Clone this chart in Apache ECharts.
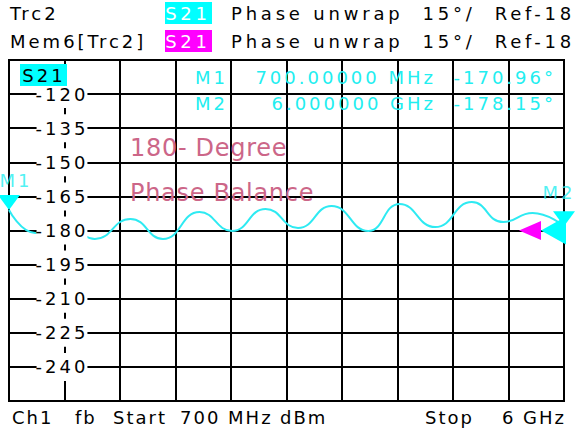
<!DOCTYPE html>
<html><head><meta charset="utf-8">
<script src="https://cdn.jsdelivr.net/npm/echarts@6/dist/echarts.min.js"></script>
<style>
html,body{margin:0;padding:0;background:#fff;}
#c{width:575px;height:433px;letter-spacing:3px;}
#c text[fill="#cc6688"], #c text[fill="#CC6688"]{letter-spacing:0.7px;}
#c text[fill="#020202"], #c text[fill="#fffffe"], #c text[fill="#FFFFFE"]{letter-spacing:3.8px;}
#c text[fill="#010101"]{letter-spacing:2px;}
</style></head><body><div id="c"></div>
<script>
// ---- data ----
const freqGHz  = [0.70, 0.95, 1.21, 1.52, 1.86, 2.17, 2.52, 2.83, 3.15, 3.46, 3.78, 4.13, 4.43, 4.77, 5.12, 5.42, 5.70, 6.00];
const phaseDeg = [-170.96, -181.1, -175.4, -183.7, -174.9, -183.7, -171.9, -180.2, -170.5, -178.9, -169.2, -180.2, -168.3, -178.5, -167.5, -176.3, -172.3, -178.15];
const markerNames = ['M1', 'M2'];
const markerFreq  = [0.7, 6.0];
const markerPhase = [-170.96, -178.15];
const refLevel = -180;
const yMin = -255, yMax = -105, yStep = 15;
const yTickLabels = [-120, -135, -150, -165, -180, -195, -210, -225, -240];
const fStart = 0.7, fStop = 6.0;

const FONT = '"DejaVu Sans", sans-serif';
const CYAN = '#00ffff';
const TRACE = '#2eeaf2';
const MAG = '#ff00ff';
const PINK = '#cc6688';
const HEAD = '#020202';
const FOOT = '#010101';
const MTXT = '#22eef0';

const traceData = freqGHz.map((f, i) => [f, phaseDeg[i]]);
const markerData = markerNames.map((n, i) => ({ name: n, value: [markerFreq[i], markerPhase[i]] }));
const markerLabelOffsets = [[7, -29], [-5, -34]];
const markerLabelData = markerData.map((d, i) => ({ name: d.name, value: d.value, label: { offset: markerLabelOffsets[i] } }));

function txt(x, y, s, opts) {
  opts = opts || {};
  return {
    type: 'text', x: x, y: y, z: 100,
    style: {
      text: s, fill: opts.fill || '#000',
      font: (opts.size || 18) + 'px ' + FONT,
      align: opts.align || 'left', textAlign: opts.align || 'left',
      verticalAlign: 'middle', textVerticalAlign: 'middle'
    }
  };
}
function box(x, y, w, h, color) {
  return { type: 'rect', z: 99, shape: { x: x, y: y, width: w, height: h }, style: { fill: color } };
}

const chart = echarts.init(document.getElementById('c'), null, { renderer: 'svg' });
chart.setOption({
  animation: false,
  backgroundColor: '#fff',
  grid: { left: 9, right: 11, top: 60, bottom: 32, show: true, borderColor: '#000', borderWidth: 2, outerBoundsMode: 'none', containLabel: false },
  xAxis: [
    { type: 'value', min: fStart, max: fStop, show: false },
    { type: 'value', min: 0, max: 10, interval: 1, show: true,
      axisLine: { show: false }, axisTick: { show: false }, axisLabel: { show: false },
      splitLine: { show: true, lineStyle: { color: '#000', width: 2 } } }
  ],
  yAxis: [
    { type: 'value', min: yMin, max: yMax, interval: yStep, position: 'left', offset: -56, z: 10,
      axisLine: { show: false }, axisTick: { show: false }, splitLine: { show: false },
      axisLabel: { show: true, margin: 3, align: 'center', color: '#000', fontFamily: FONT, fontSize: 18,
        backgroundColor: '#fff', padding: [5, 5], showMinLabel: false, showMaxLabel: false,
        formatter: v => (yTickLabels.indexOf(v) >= 0 ? String(v) : '') } },
    { type: 'value', min: yMin, max: yMax, interval: yStep, show: true,
      axisLine: { show: false }, axisTick: { show: false }, axisLabel: { show: false },
      splitLine: { show: true, lineStyle: { color: '#000', width: 2 } } }
  ],
  series: [
    { type: 'line', xAxisIndex: 0, yAxisIndex: 0, data: traceData, smooth: 0.5, showSymbol: false, symbol: 'none',
      lineStyle: { color: TRACE, width: 2 }, z: 5 },
    // reference level arrows (memory = magenta, trace = cyan)
    { type: 'scatter', xAxisIndex: 0, yAxisIndex: 0, clip: false, z: 6, data: [[fStop, refLevel]],
      symbol: 'triangle', symbolRotate: 90, symbolSize: [19, 22], symbolOffset: [-34, 0],
      itemStyle: { color: MAG, opacity: 1 } },
    { type: 'scatter', xAxisIndex: 0, yAxisIndex: 0, clip: false, z: 7, data: [[fStop, refLevel]],
      symbol: 'triangle', symbolRotate: 90, symbolSize: [28, 25], symbolOffset: [-10.5, 0],
      itemStyle: { color: CYAN, opacity: 1 } },
    // markers
    { type: 'scatter', xAxisIndex: 0, yAxisIndex: 0, clip: false, z: 8, data: markerData,
      symbol: 'triangle', symbolRotate: 180, symbolSize: [22, 15], symbolOffset: [0, -7.5],
      itemStyle: { color: CYAN, opacity: 1 } },
    { type: 'scatter', xAxisIndex: 0, yAxisIndex: 0, clip: false, z: 9, data: markerLabelData,
      symbol: 'circle', symbolSize: 1, itemStyle: { color: 'transparent' },
      label: { show: true, position: 'inside', formatter: p => p.name, color: MTXT, fontFamily: FONT, fontSize: 18 } }
  ],
  graphic: [
    txt(10, 13, 'Trc2'),
    box(165, 2, 47, 22, CYAN),
    txt(188, 13, 'S21', { fill: '#fffffe', align: 'center' }),
    txt(231, 13, 'Phase unwrap  15°/  Ref-18', { fill: HEAD }),
    txt(10, 41, 'Mem6[Trc2]'),
    box(165, 30, 47, 22, MAG),
    txt(188, 41, 'S21', { fill: '#fffffe', align: 'center' }),
    txt(231, 41, 'Phase unwrap  15°/  Ref-18', { fill: HEAD }),
    box(20, 64, 47, 22, CYAN),
    txt(44, 75, 'S21', { align: 'center' }),
    txt(195, 77, 'M1', { fill: MTXT }),
    txt(436, 77, '700.00000 MHz', { fill: MTXT, align: 'right' }),
    txt(556, 77, '-170.96°', { fill: MTXT, align: 'right' }),
    txt(195, 103, 'M2', { fill: MTXT }),
    txt(436, 103, '6.000000 GHz', { fill: MTXT, align: 'right' }),
    txt(556, 103, '-178.15°', { fill: MTXT, align: 'right' }),
    txt(130, 148, '180- Degree', { fill: PINK, size: 24 }),
    txt(130, 193, 'Phase Balance', { fill: PINK, size: 24 }),
    txt(12, 417, 'Ch1', { fill: FOOT }),
    txt(75, 417, 'fb', { fill: FOOT }),
    txt(113, 417, 'Start', { fill: FOOT }),
    txt(180, 417, '700 MHz', { fill: FOOT }),
    txt(280, 417, 'dBm', { fill: FOOT }),
    txt(425, 417, 'Stop', { fill: FOOT }),
    txt(566, 417, '6 GHz', { fill: FOOT, align: 'right' })
  ]
});
</script></body></html>
